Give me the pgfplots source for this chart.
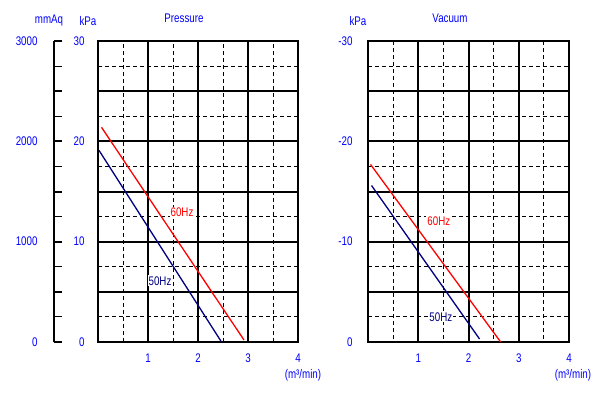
\documentclass[border=0pt]{standalone}
\usepackage{fontspec}
\setmainfont{Liberation Sans}
\newfontfamily\chartfont[FakeStretch=0.78]{Liberation Sans}
\usepackage{pgfplots}
\pgfplotsset{compat=1.18}
\definecolor{navy}{RGB}{0,0,128}
\definecolor{lblblue}{RGB}{0,0,255}
\newcommand{\cf}{\chartfont\fontsize{12.5}{14}\selectfont}
\pgfplotsset{
  chartgrid/.style={
    scale only axis,
    xmin=0, xmax=4,
    axis line style={line width=2pt},
    grid=both,
    major grid style={black, line width=2pt},
    minor grid style={black, line width=0.9pt, dash pattern=on 4pt off 3pt},
    xtick={0,1,2,3,4},
    minor xtick={0.5,1.5,2.5,3.5},
    xticklabels={,1,2,3,4},
    major tick length=0pt, minor tick length=0pt,
    tick label style={text=lblblue, font=\cf},
    xticklabel style={yshift=-8pt},
    /pgf/number format/assume math mode=true,
  }
}
\begin{document}
\begin{tikzpicture}
\useasboundingbox (0,0) rectangle (609pt,-393pt);
\tikzset{lbl/.style={text=lblblue, font=\cf, inner sep=0pt}}

% secondary mmAq axis
\begin{axis}[
  at={(54pt,-342pt)}, anchor=south west,
  width=8pt, height=301pt, scale only axis,
  xmin=0, xmax=1, ymin=0, ymax=3000,
  hide x axis, axis y line*=left,
  y axis line style={line width=2pt},
  ytick={0,500,...,3000},
  minor ytick={250,750,...,2750},
  yticklabels={0,,1000,,2000,,3000},
  tick align=inside,
  major tick length=8pt, minor tick length=8pt,
  major tick style={black, line width=2pt},
  minor tick style={black, line width=1pt},
  tick label style={text=lblblue, font=\cf},
  yticklabel style={xshift=-13pt},
  /pgf/number format/assume math mode=true,
]
\end{axis}

% Pressure
\begin{axis}[chartgrid,
  at={(98pt,-342pt)}, anchor=south west,
  width=200pt, height=301pt,
  ymin=0, ymax=30,
  ytick={0,5,...,30},
  minor ytick={2.5,7.5,...,27.5},
  yticklabels={0,,10,,20,,30},
  yticklabel style={xshift=-10pt},
]
\addplot[red, line width=1.3pt] coordinates {(0.07,21.4) (2.92,0.2)};
\addplot[navy, line width=1.3pt] coordinates {(0.02,19.1) (2.47,0)};
\node[fill=white, text=red, font=\cf, inner sep=1pt] at (axis cs:1.68,12.9) {60Hz};
\node[fill=white, text=navy, font=\cf, inner sep=1pt] at (axis cs:1.24,6.1) {50Hz};
\end{axis}

% Vacuum
\begin{axis}[chartgrid,
  at={(368pt,-342pt)}, anchor=south west,
  width=201pt, height=301pt,
  y dir=reverse,
  ymin=-30, ymax=0,
  ytick={-30,-25,...,0},
  minor ytick={-27.5,-22.5,...,-2.5},
  yticklabels={-30,,-20,,-10,,0},
  yticklabel style={xshift=-12pt},
]
\addplot[red, line width=1.3pt] coordinates {(0.05,-17.7) (2.64,0)};
\addplot[navy, line width=1.3pt] coordinates {(0.07,-15.6) (2.22,-0.3)};
\node[fill=white, text=red, font=\cf, inner sep=1pt] at (axis cs:1.41,-12) {60Hz};
\node[fill=white, text=navy, font=\cf, inner sep=1pt] at (axis cs:1.45,-2.5) {50Hz};
\end{axis}

\node[lbl] at (49pt,-20pt) {mmAq};
\node[lbl] at (88pt,-21pt) {kPa};
\node[lbl] at (184pt,-18pt) {Pressure};
\node[lbl] at (358pt,-21pt) {kPa};
\node[lbl] at (450pt,-18pt) {Vacuum};
\node[lbl] at (303pt,-375pt) {(m³/min)};
\node[lbl] at (573pt,-375pt) {(m³/min)};
\end{tikzpicture}
\end{document}
